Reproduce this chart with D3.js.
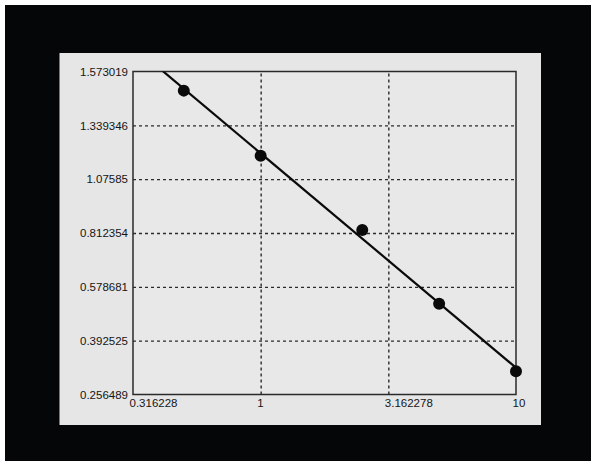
<!DOCTYPE html>
<html lang="en">
<head>
<meta charset="utf-8">
<title>Calibration curve</title>
<script src="https://cdn.jsdelivr.net/npm/d3@7/dist/d3.min.js"></script>
<style>
  html, body { margin: 0; padding: 0; background: #fff; }
  svg { display: block; }
  .tick text { font-family: "Liberation Sans", Arial, sans-serif; font-size: 11.5px; fill: #151515; }
</style>
</head>
<body>
<div id="chart"></div>
<script>
(function(d3) {
  'use strict';

  // data
  var concentrations = [0.5, 1, 2.5, 5, 10];
  var responses = [1.49, 1.19, 0.827, 0.52, 0.315];

  var xTicks = [0.316228, 1, 3.162278, 10];
  var xTickLabels = ['0.316228', '1', '3.162278', '10'];
  var yTicks = [0.256489, 0.392525, 0.578681, 0.812354, 1.07585, 1.339346, 1.573019];
  var yTickLabels = ['0.256489', '0.392525', '0.578681', '0.812354', '1.07585', '1.339346', '1.573019'];

  var width = 600, height = 470;
  var plot = { left: 133, right: 516, top: 71.5, bottom: 394.5 };

  var svg = d3.select('#chart').append('svg')
    .attr('width', width)
    .attr('height', height);

  // frame
  svg.append('rect').attr('x', 5).attr('y', 5).attr('width', 586).attr('height', 456).attr('fill', '#050608');
  svg.append('rect').attr('x', 59.5).attr('y', 53).attr('width', 481.5).attr('height', 372).attr('fill', '#e6e6e6');
  svg.append('rect')
    .attr('x', plot.left).attr('y', plot.top)
    .attr('width', plot.right - plot.left).attr('height', plot.bottom - plot.top)
    .attr('fill', '#e8e8e8');

  var x = d3.scaleLog().domain([xTicks[0], xTicks[xTicks.length - 1]]).range([plot.left, plot.right]);

  // y axis: ticks are evenly spaced, so map values to tick index first
  var yIdx = d3.scaleLinear().domain(yTicks).range(d3.range(yTicks.length));
  var yPix = d3.scaleLinear().domain([0, yTicks.length - 1]).range([plot.bottom, plot.top]);
  var y = function(v) { return yPix(yIdx(v)); };
  var yAxisScale = d3.scaleLinear().domain(yTicks).range(yTicks.map(function(d, i) { return yPix(i); }));

  // grid
  var innerY = yTicks.slice(1, -1);
  var innerX = xTicks.slice(1, -1);
  function styleGrid(g) {
    g.select('.domain').remove();
    g.selectAll('line').attr('stroke', '#2b2b2b').attr('stroke-width', 1.4).attr('stroke-dasharray', '3,3');
  }
  svg.append('g')
    .attr('transform', 'translate(' + plot.left + ',0)')
    .call(d3.axisLeft(yAxisScale).tickValues(innerY).tickSize(-(plot.right - plot.left)).tickFormat(''))
    .call(styleGrid);
  svg.append('g')
    .attr('transform', 'translate(0,' + plot.bottom + ')')
    .call(d3.axisBottom(x).tickValues(innerX).tickSize(-(plot.bottom - plot.top)).tickFormat(''))
    .call(styleGrid);

  // tick labels
  svg.append('g')
    .attr('transform', 'translate(' + plot.left + ',0)')
    .call(d3.axisLeft(yAxisScale).tickValues(yTicks).tickSize(0).tickPadding(5)
      .tickFormat(function(d, i) { return yTickLabels[i]; }))
    .call(function(g) { g.select('.domain').remove(); });

  svg.append('g')
    .attr('transform', 'translate(0,' + plot.bottom + ')')
    .call(d3.axisBottom(x).tickValues(xTicks).tickSize(0).tickPadding(4)
      .tickFormat(function(d, i) { return xTickLabels[i]; }))
    .call(function(g) {
      g.select('.domain').remove();
      g.selectAll('text').attr('text-anchor', 'start').attr('dx', -4);
    });

  // plot border
  svg.append('rect')
    .attr('x', plot.left).attr('y', plot.top)
    .attr('width', plot.right - plot.left).attr('height', plot.bottom - plot.top)
    .attr('fill', 'none').attr('stroke', '#2a2a2a').attr('stroke-width', 1.5);

  // least squares line in log-x / tick-index space
  var pts = concentrations.map(function(c, i) { return [Math.log10(c), yIdx(responses[i])]; });
  var mx = d3.mean(pts, function(p) { return p[0]; });
  var my = d3.mean(pts, function(p) { return p[1]; });
  var sxy = d3.sum(pts, function(p) { return (p[0] - mx) * (p[1] - my); });
  var sxx = d3.sum(pts, function(p) { return (p[0] - mx) * (p[0] - mx); });
  var slope = sxy / sxx;
  var icpt = my - slope * mx;
  var xs = x.domain();

  svg.append('clipPath').attr('id', 'clip')
    .append('rect')
    .attr('x', plot.left).attr('y', plot.top)
    .attr('width', plot.right - plot.left).attr('height', plot.bottom - plot.top);

  svg.append('line')
    .attr('clip-path', 'url(#clip)')
    .attr('x1', x(xs[0])).attr('y1', yPix(icpt + slope * Math.log10(xs[0])))
    .attr('x2', x(xs[1])).attr('y2', yPix(icpt + slope * Math.log10(xs[1])))
    .attr('stroke', '#0a0a0a').attr('stroke-width', 2.2);

  svg.selectAll('circle.pt')
    .data(concentrations)
    .enter()
    .append('circle')
    .attr('class', 'pt')
    .attr('cx', function(d) { return x(d); })
    .attr('cy', function(d, i) { return y(responses[i]); })
    .attr('r', 6)
    .attr('fill', '#0a0a0a');

})(window.d3);
</script>
</body>
</html>
